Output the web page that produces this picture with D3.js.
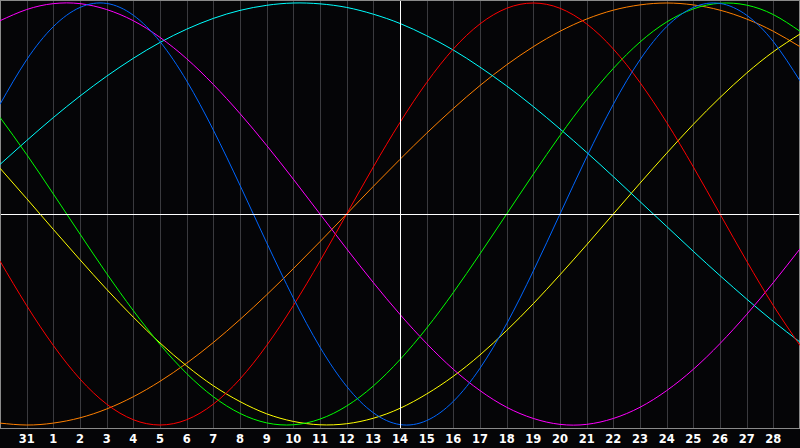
<!DOCTYPE html>
<html>
<head>
<meta charset="utf-8">
<script src="https://cdn.jsdelivr.net/npm/d3@7"></script>
<style>
  html, body { margin: 0; padding: 0; background: #050507; }
  svg { display: block; }
</style>
</head>
<body>
<div id="container"></div>
<script>
/* CONSTANTS AND GLOBALS */
const width = 800,
  height = 448,
  plotBottom = 428;

/* DATA */
// day labels under each grid line (index 1..29), index 0 and 30 are the edges
const dayLabels = ["30", "31", "1", "2", "3", "4", "5", "6", "7", "8", "9", "10", "11", "12", "13",
  "14", "15", "16", "17", "18", "19", "20", "21", "22", "23", "24", "25", "26", "27", "28", "29"];
const todayIndex = 15;

// cycle values, one per day (-1 .. 1)
const physical = [0.520, 0.731, 0.888, 0.979, 0.998, 0.942, 0.817, 0.631, 0.398, 0.136, -0.136, -0.398, -0.631, -0.817, -0.942,
  -0.998, -0.979, -0.888, -0.731, -0.520, -0.270, 0.000, 0.270, 0.520, 0.731, 0.888, 0.979, 0.998, 0.942, 0.817, 0.631];
const emotional = [-0.223, -0.434, -0.623, -0.782, -0.901, -0.975, -1.000, -0.975, -0.901, -0.782, -0.623, -0.434, -0.223, 0.000, 0.223,
  0.434, 0.623, 0.782, 0.901, 0.975, 1.000, 0.975, 0.901, 0.782, 0.623, 0.434, 0.223, 0.000, -0.223, -0.434, -0.623];
const intellectual = [0.458, 0.282, 0.095, -0.095, -0.282, -0.458, -0.618, -0.756, -0.866, -0.945, -0.990, -0.999, -0.972, -0.910, -0.815,
  -0.690, -0.541, -0.372, -0.189, 0.000, 0.189, 0.372, 0.541, 0.690, 0.815, 0.910, 0.972, 0.999, 0.990, 0.945, 0.866];
const intuitive = [0.916, 0.969, 0.997, 0.997, 0.969, 0.916, 0.837, 0.736, 0.614, 0.476, 0.325, 0.165, 0.000, -0.165, -0.325,
  -0.476, -0.614, -0.736, -0.837, -0.916, -0.969, -0.997, -0.997, -0.969, -0.916, -0.837, -0.736, -0.614, -0.476, -0.325, -0.165];
const aesthetic = [0.217, 0.073, -0.073, -0.217, -0.357, -0.489, -0.611, -0.720, -0.814, -0.889, -0.947, -0.983, -0.999, -0.994, -0.968,
  -0.921, -0.853, -0.769, -0.668, -0.552, -0.425, -0.288, -0.146, 0.000, 0.146, 0.288, 0.425, 0.552, 0.668, 0.769, 0.853];
const awareness = [-0.991, -1.000, -0.991, -0.966, -0.924, -0.866, -0.793, -0.707, -0.609, -0.500, -0.383, -0.259, -0.131, 0.000, 0.131,
  0.259, 0.383, 0.500, 0.609, 0.707, 0.793, 0.866, 0.924, 0.966, 0.991, 1.000, 0.991, 0.966, 0.924, 0.866, 0.793];
const spiritual = [0.235, 0.348, 0.457, 0.559, 0.653, 0.738, 0.813, 0.876, 0.927, 0.965, 0.989, 1.000, 0.996, 0.979, 0.947,
  0.903, 0.845, 0.777, 0.696, 0.607, 0.509, 0.403, 0.292, 0.177, 0.059, -0.059, -0.177, -0.292, -0.403, -0.509, -0.607];

const series = [
  { name: "awareness", values: awareness, color: "#ff8000" },
  { name: "aesthetic", values: aesthetic, color: "#ffff00" },
  { name: "spiritual", values: spiritual, color: "#00ffff" },
  { name: "intuitive", values: intuitive, color: "#ff00ff" },
  { name: "intellectual", values: intellectual, color: "#00ff00" },
  { name: "emotional", values: emotional, color: "#ff0000" },
  { name: "physical", values: physical, color: "#0066ff" }
];

/* SCALES */
const xScale = d3.scaleLinear()
  .domain([0, dayLabels.length - 1])
  .range([0, width])

const yScale = d3.scaleLinear()
  .domain([-1, 1])
  .range([425, 3])

/* HTML ELEMENTS */
const svg = d3.select("#container")
  .append("svg")
  .attr("width", width)
  .attr("height", height)

svg.append("rect")
  .attr("width", width)
  .attr("height", height)
  .attr("fill", "#050507")

// day grid
const gridIdx = d3.range(1, dayLabels.length - 1)
svg.append("g")
  .selectAll("line")
  .data(gridIdx)
  .join("line")
  .attr("x1", d => Math.round(xScale(d)) + 0.5)
  .attr("x2", d => Math.round(xScale(d)) + 0.5)
  .attr("y1", 0)
  .attr("y2", plotBottom)
  .attr("stroke", "#3a3a3e")
  .attr("shape-rendering", "crispEdges")

// frame
svg.append("path")
  .attr("d", `M0.5,${plotBottom + 0.5}V0.5H799.5V${plotBottom + 0.5}Z`)
  .attr("fill", "none")
  .attr("stroke", "#8a8a8a")
  .attr("shape-rendering", "crispEdges")

// day labels
svg.append("g")
  .selectAll("text")
  .data(gridIdx)
  .join("text")
  .attr("x", d => xScale(d))
  .attr("y", 443)
  .attr("text-anchor", "middle")
  .attr("fill", "#ffffff")
  .attr("font-family", "DejaVu Sans, sans-serif")
  .attr("font-weight", "bold")
  .attr("font-size", 11.5)
  .text(d => dayLabels[d])

/* DRAW CURVES */
const line = d3.line()
  .x((d, i) => xScale(i))
  .y(d => yScale(d))
  .curve(d3.curveNatural)

svg.append("g")
  .selectAll("path")
  .data(series)
  .join("path")
  .attr("d", d => line(d.values))
  .attr("fill", "none")
  .attr("stroke", d => d.color)
  .attr("stroke-width", 1)

// zero line and today marker
svg.append("line")
  .attr("x1", 1).attr("x2", width - 1)
  .attr("y1", Math.round(yScale(0)) + 0.5).attr("y2", Math.round(yScale(0)) + 0.5)
  .attr("stroke", "#ffffff")
  .attr("shape-rendering", "crispEdges")

svg.append("line")
  .attr("x1", xScale(todayIndex) + 0.5).attr("x2", xScale(todayIndex) + 0.5)
  .attr("y1", 1).attr("y2", plotBottom)
  .attr("stroke", "#ffffff")
  .attr("shape-rendering", "crispEdges")
</script>
</body>
</html>
